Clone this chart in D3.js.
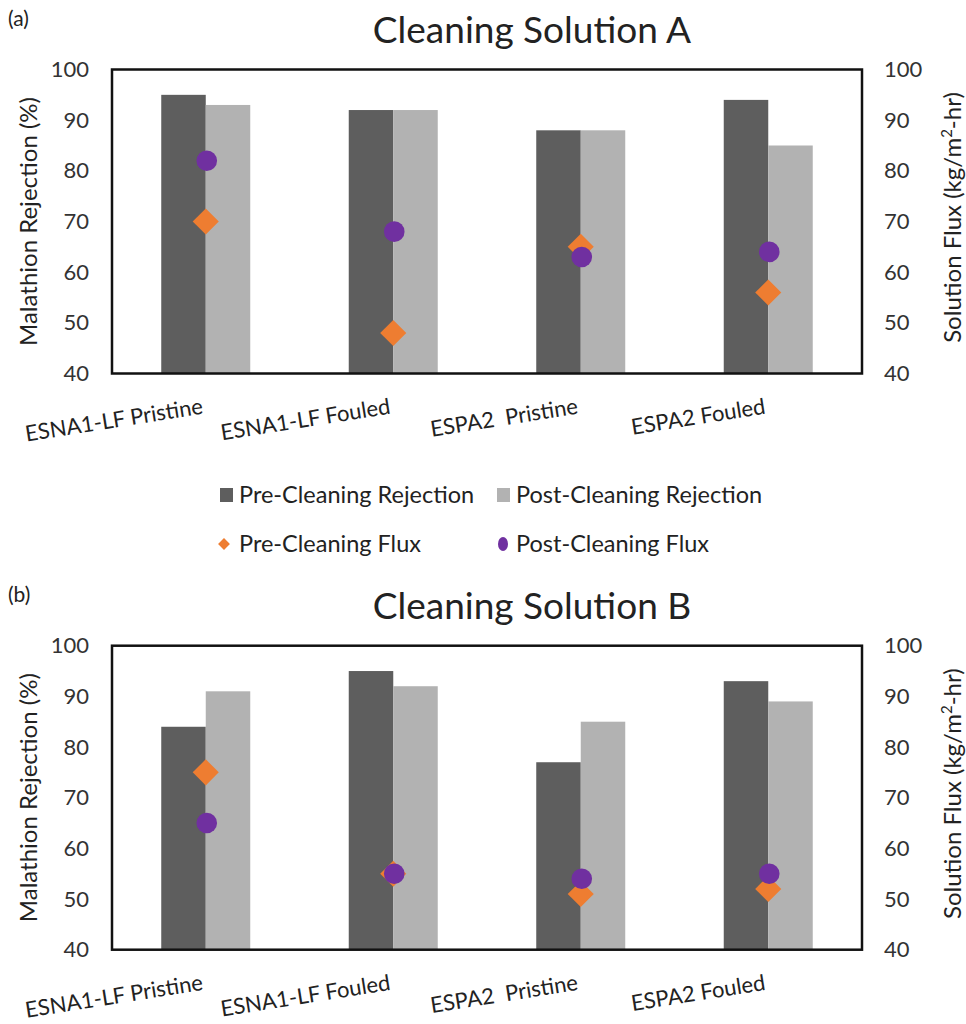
<!DOCTYPE html>
<meta charset="utf-8">
<style>
    body { margin: 0; background: #fff; }
    svg text { font-family: Lato, "Open Sans", sans-serif; fill: #222; }
    .tick text { font-size: 22px; fill: #333; }
    .xlab { font-size: 22px; white-space: pre; }
    .legend text { font-size: 23.5px; }
</style>
<svg width="966" height="1024"></svg>
<script src="https://d3js.org/d3.v7.min.js"></script>
<script>

    var categories = ["ESNA1-LF Pristine", "ESNA1-LF Fouled", "ESPA2  Pristine", "ESPA2 Fouled"];
    var yTicks = [40, 50, 60, 70, 80, 90, 100];

    // cleaning solution A
    var preRejA = [95, 92, 88, 94];
    var postRejA = [93, 92, 88, 85];
    var preFluxA = [70, 48, 65, 56];
    var postFluxA = [82, 68, 63, 64];

    // cleaning solution B
    var preRejB = [84, 95, 77, 93];
    var postRejB = [91, 92, 85, 89];
    var preFluxB = [75, 55, 51, 52];
    var postFluxB = [65, 55, 54, 55];

    var darkBar = "#5e5e5e",
        lightBar = "#b2b2b2",
        orange = "#ee7d31",
        purple = "#7030a0";

    var svg = d3.select("svg");

    var left = 112, right = 862, barW = 44.5;

    var x = d3.scaleBand().domain(categories).range([left, right]);

    function drawPanel(top, tag, title, preRej, postRej, preFlux, postFlux) {
        var bottom = top + 304;
        var y = d3.scaleLinear().domain([40, 100]).range([bottom, top]);
        var g = svg.append("g");

        g.append("text").attr("x", 8).attr("y", top - 44)
            .style("font-size", "21px").text(tag);
        g.append("text").attr("x", 532).attr("y", top - 27)
            .attr("text-anchor", "middle").style("font-size", "37px").text(title);

        // bars
        g.selectAll(".pre").data(preRej).enter().append("rect")
            .attr("x", function(d, i) { return x(categories[i]) + x.bandwidth() / 2 - barW; })
            .attr("y", function(d) { return y(d); })
            .attr("width", barW)
            .attr("height", function(d) { return bottom - y(d); })
            .attr("fill", darkBar);
        g.selectAll(".post").data(postRej).enter().append("rect")
            .attr("x", function(d, i) { return x(categories[i]) + x.bandwidth() / 2; })
            .attr("y", function(d) { return y(d); })
            .attr("width", barW)
            .attr("height", function(d) { return bottom - y(d); })
            .attr("fill", lightBar);

        // flux markers
        var diamond = d3.symbol().type(d3.symbolSquare).size(340);
        g.selectAll(".dia").data(preFlux).enter().append("path")
            .attr("d", diamond)
            .attr("transform", function(d, i) {
                return "translate(" + (x(categories[i]) + x.bandwidth() / 2) + "," + y(d) + ") rotate(45)";
            })
            .attr("fill", orange);
        g.selectAll(".dot").data(postFlux).enter().append("circle")
            .attr("cx", function(d, i) { return x(categories[i]) + x.bandwidth() / 2 + 1; })
            .attr("cy", function(d) { return y(d); })
            .attr("r", 10.3)
            .attr("fill", purple);

        // axes
        var la = g.append("g").attr("transform", "translate(" + (left - 23) + ",0)")
            .call(d3.axisLeft(y).tickValues(yTicks).tickSize(0).tickPadding(0));
        la.select(".domain").remove();
        var ra = g.append("g").attr("transform", "translate(" + (right + 22) + ",0)")
            .call(d3.axisRight(y).tickValues(yTicks).tickSize(0).tickPadding(0));
        ra.select(".domain").remove();
        g.selectAll(".tick text").attr("font-family", null);

        g.append("rect").attr("x", left).attr("y", top)
            .attr("width", right - left).attr("height", bottom - top)
            .attr("fill", "none").attr("stroke", "#111").attr("stroke-width", 2.5);

        g.append("text")
            .attr("transform", "translate(37," + (top + 152) + ") rotate(-90)")
            .attr("text-anchor", "middle").style("font-size", "24px")
            .text("Malathion Rejection (%)");
        var rt = g.append("text")
            .attr("transform", "translate(961," + (top + 148) + ") rotate(-90)")
            .attr("text-anchor", "middle").style("font-size", "24px");
        rt.append("tspan").text("Solution Flux (kg/m");
        rt.append("tspan").attr("dy", -9).style("font-size", "15px").text("2");
        rt.append("tspan").attr("dy", 9).text("-hr)");

        // category labels
        g.selectAll(".xlab").data(categories).enter().append("text")
            .attr("class", "xlab")
            .attr("text-anchor", "end")
            .attr("transform", function(d) {
                return "translate(" + (x(d) + x.bandwidth() / 2 - 2) + "," + (bottom + 40) + ") rotate(-9)";
            })
            .text(function(d) { return d; });
    }

    drawPanel(69.5, "(a)", "Cleaning Solution A", preRejA, postRejA, preFluxA, postFluxA);
    drawPanel(645.7, "(b)", "Cleaning Solution B", preRejB, postRejB, preFluxB, postFluxB);

    // legend between the panels
    var leg = svg.append("g").attr("class", "legend");
    var items = [
        {name: "Pre-Cleaning Rejection", kind: "square", color: darkBar, x: 220, y: 495},
        {name: "Post-Cleaning Rejection", kind: "square", color: lightBar, x: 497, y: 495},
        {name: "Pre-Cleaning Flux", kind: "diamond", color: orange, x: 220, y: 544},
        {name: "Post-Cleaning Flux", kind: "circle", color: purple, x: 497, y: 544}
    ];
    items.forEach(function(it) {
        if (it.kind === "square") {
            leg.append("rect").attr("x", it.x).attr("y", it.y - 7)
                .attr("width", 13).attr("height", 14).attr("fill", it.color);
        } else if (it.kind === "diamond") {
            leg.append("path").attr("d", d3.symbol().type(d3.symbolSquare).size(70))
                .attr("transform", "translate(" + (it.x + 4) + "," + it.y + ") rotate(45)")
                .attr("fill", it.color);
        } else {
            leg.append("ellipse").attr("cx", it.x + 6).attr("cy", it.y)
                .attr("rx", 5).attr("ry", 7).attr("fill", it.color);
        }
        leg.append("text").attr("x", it.x + 19).attr("y", it.y + 8).text(it.name);
    });

</script>
